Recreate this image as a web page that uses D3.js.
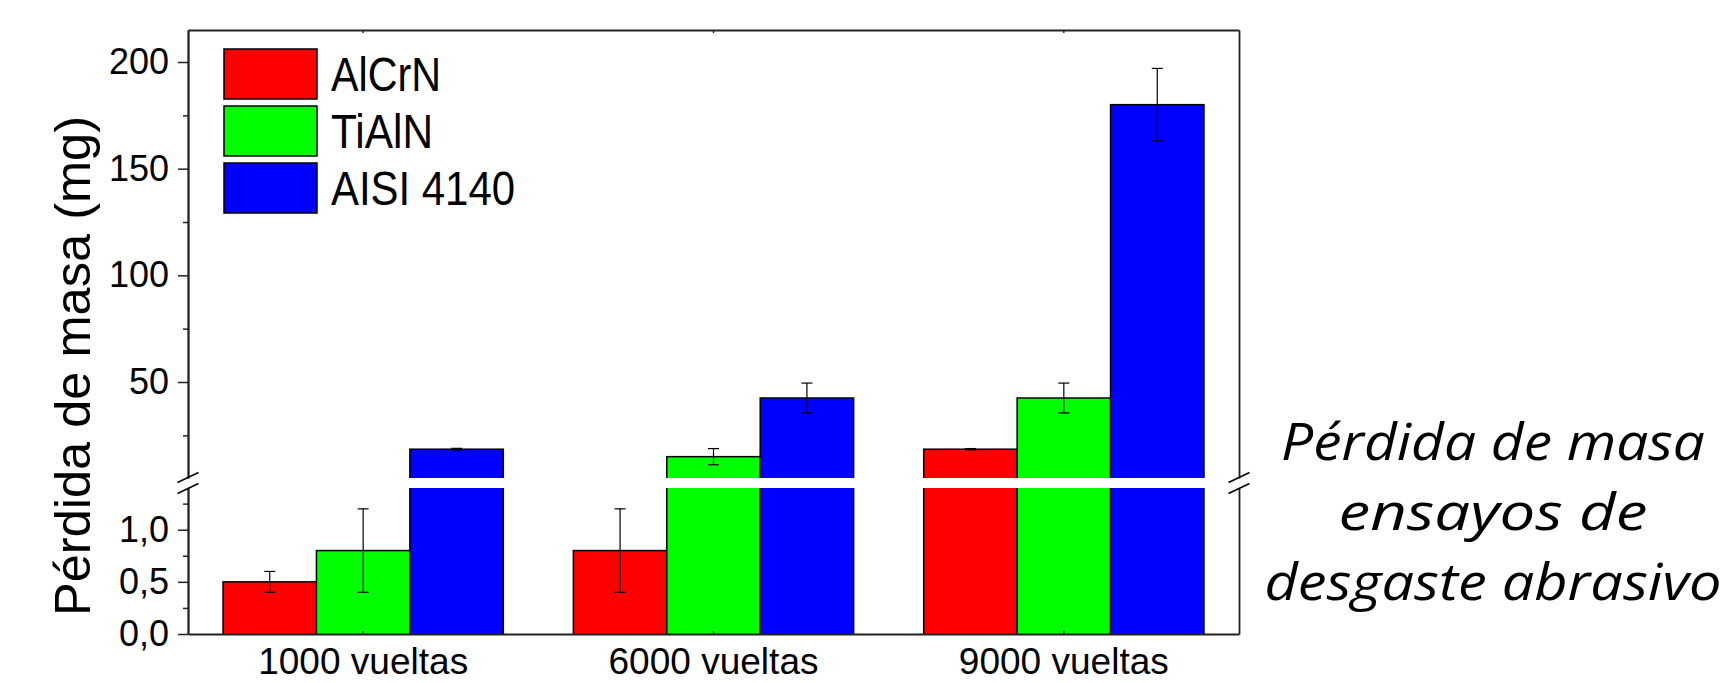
<!DOCTYPE html>
<html>
<head>
<meta charset="utf-8">
<script src="https://cdn.jsdelivr.net/npm/d3@7"></script>
<style>
  body { margin: 0; background: #fff; }
  svg { display: block; }
</style>
</head>
<body>
<div id="chart"></div>
<script>
const categories = ["1000 vueltas", "6000 vueltas", "9000 vueltas"];
const seriesNames = ["AlCrN", "TiAlN", "AISI 4140"];
const seriesColors = ["#ff0000", "#00ff00", "#0000ff"];
const alcrnValues = [0.5, 0.8, 18.5];
const alcrnErrors = [0.1, 0.4, 0.3];
const tialnValues = [0.8, 15, 42.5];
const tialnErrors = [0.4, 3.8, 7];
const aisiValues = [18.5, 42.5, 180];
const aisiErrors = [0.4, 7, 17];
const upperTicks = [50, 100, 150, 200];
const upperMinorTicks = [25, 75, 125, 175];
const lowerTicks = [0, 0.5, 1.0];
const lowerMinorTicks = [0.25, 0.75, 1.25];
const noteLines = ["Pérdida de masa", "ensayos de", "desgaste abrasivo"];

function drawBrokenBars(targetElementId) {
    const container = document.getElementById(targetElementId);
    container.innerHTML = '';

    const width = 1727;
    const height = 683;
    const left = 188, right = 1239, top = 30, bottom = 634;
    const breakLow = 488, breakHigh = 478;
    const font = "'Liberation Sans', Arial, sans-serif";

    const svg = d3.select(container).append("svg")
        .attr("width", width)
        .attr("height", height);

    const values = [alcrnValues, tialnValues, aisiValues];
    const errors = [alcrnErrors, tialnErrors, aisiErrors];
    const bars = [];
    categories.forEach((c, i) => {
        seriesNames.forEach((s, j) => {
            bars.push({ cat: c, series: s, color: seriesColors[j], v: values[j][i], e: errors[j][i] });
        });
    });

    const x0 = d3.scaleBand().domain(categories).range([left, right]).paddingInner(0.2).paddingOuter(0.1);
    const x1 = d3.scaleBand().domain(seriesNames).range([0, x0.bandwidth()]);

    const yUpper = d3.scaleLinear().domain([5, 215]).range([breakHigh, top]);
    const yLower = d3.scaleLinear().domain([0, 1.4]).range([bottom, breakLow]);

    const comma = d3.formatLocale({ decimal: ",", thousands: ".", grouping: [3], currency: ["", ""] });

    const defs = svg.append("defs");
    defs.append("clipPath").attr("id", "clip-up").append("rect")
        .attr("x", left).attr("y", top).attr("width", right - left).attr("height", breakHigh - top);
    defs.append("clipPath").attr("id", "clip-low").append("rect")
        .attr("x", left).attr("y", breakLow).attr("width", right - left).attr("height", bottom - breakLow);

    // bars, once per segment
    const segments = [
        { y: yUpper, clip: "clip-up", base: breakHigh },
        { y: yLower, clip: "clip-low", base: bottom }
    ];
    segments.forEach(seg => {
        const lo = seg.y.domain()[0];
        const hiPix = seg.y.range()[1];
        svg.append("g")
            .attr("clip-path", `url(#${seg.clip})`)
            .selectAll("rect")
            .data(bars.filter(d => d.v > lo))
            .enter()
            .append("rect")
            .attr("x", d => x0(d.cat) + x1(d.series))
            .attr("width", x1.bandwidth())
            .attr("y", d => Math.max(seg.y(d.v), hiPix - 6))
            .attr("height", d => seg.base + 6 - Math.max(seg.y(d.v), hiPix - 6))
            .attr("fill", d => d.color)
            .attr("stroke", "#000")
            .attr("stroke-width", 1.5);
    });

    // error bars
    const errG = svg.append("g").attr("stroke", "#000").attr("stroke-width", 1.2);
    bars.forEach(d => {
        const y = d.v >= yUpper.domain()[0] ? yUpper : yLower;
        const cx = x0(d.cat) + x1(d.series) + x1.bandwidth() / 2;
        const y1 = y(d.v + d.e), y2 = y(d.v - d.e);
        errG.append("line").attr("x1", cx).attr("x2", cx).attr("y1", y1).attr("y2", y2);
        [y1, y2].forEach(yy => {
            errG.append("line").attr("x1", cx - 5.5).attr("x2", cx + 5.5).attr("y1", yy).attr("y2", yy);
        });
    });

    // left axes
    const styleAxis = g => {
        g.selectAll("path").attr("stroke", "#222").attr("stroke-width", 1.8);
        g.selectAll("line").attr("stroke", "#222").attr("stroke-width", 1.5);
        g.selectAll("text").attr("font-family", font).attr("font-size", 36).attr("fill", "#000");
    };
    svg.append("g").attr("transform", `translate(${left},0)`)
        .call(d3.axisLeft(yUpper).tickValues(upperTicks).tickSize(10).tickSizeOuter(0).tickPadding(9).tickFormat(d3.format("d")))
        .call(styleAxis);
    svg.append("g").attr("transform", `translate(${left},0)`)
        .call(d3.axisLeft(yUpper).tickValues(upperMinorTicks).tickSize(5).tickSizeOuter(0).tickFormat(""))
        .call(styleAxis);
    svg.append("g").attr("transform", `translate(${left},0)`)
        .call(d3.axisLeft(yLower).tickValues(lowerTicks).tickSize(10).tickSizeOuter(0).tickPadding(9).tickFormat(comma.format(".1f")))
        .call(styleAxis);
    svg.append("g").attr("transform", `translate(${left},0)`)
        .call(d3.axisLeft(yLower).tickValues(lowerMinorTicks).tickSize(5).tickSizeOuter(0).tickFormat(""))
        .call(styleAxis);

    // right axes, no labels
    [yUpper, yLower].forEach(y => {
        svg.append("g").attr("transform", `translate(${right},0)`)
            .call(d3.axisRight(y).tickValues([]).tickSizeOuter(0))
            .call(styleAxis);
    });

    // top frame and bottom axis
    svg.append("g").attr("transform", `translate(0,${top})`)
        .call(d3.axisBottom(x0).tickSize(3).tickSizeOuter(0).tickFormat(""))
        .call(styleAxis);
    svg.append("g").attr("transform", `translate(0,${bottom})`)
        .call(d3.axisTop(x0).tickSize(3).tickSizeOuter(0).tickFormat(""))
        .call(styleAxis);
    svg.append("g").selectAll("text.cat")
        .data(categories)
        .enter()
        .append("text")
        .attr("x", d => x0(d) + x0.bandwidth() / 2)
        .attr("y", 674)
        .attr("text-anchor", "middle")
        .attr("font-family", font)
        .attr("font-size", 36)
        .attr("textLength", 210)
        .attr("lengthAdjust", "spacingAndGlyphs")
        .text(d => d);

    // break marks
    const breakMid = (breakLow + breakHigh) / 2;
    [left, right].forEach(ax => {
        [-5.5, 5.5].forEach(off => {
            svg.append("line")
                .attr("x1", ax - 10.5).attr("y1", breakMid + off + 5)
                .attr("x2", ax + 10.5).attr("y2", breakMid + off - 5)
                .attr("stroke", "#000").attr("stroke-width", 1.5);
        });
    });

    // y title
    svg.append("text")
        .attr("transform", `translate(90,366) rotate(-90)`)
        .attr("text-anchor", "middle")
        .attr("font-family", font)
        .attr("font-size", 50)
        .attr("textLength", 500)
        .attr("lengthAdjust", "spacingAndGlyphs")
        .text("Pérdida de masa (mg)");

    // legend
    const legendWidths = [110, 102, 184];
    const legend = svg.append("g");
    seriesNames.forEach((s, i) => {
        legend.append("rect")
            .attr("x", 224).attr("y", 49 + i * 57)
            .attr("width", 93).attr("height", 50)
            .attr("fill", seriesColors[i])
            .attr("stroke", "#000").attr("stroke-width", 1.5);
        legend.append("text")
            .attr("x", 331).attr("y", 91 + i * 57)
            .attr("font-family", font)
            .attr("font-size", 48)
            .attr("textLength", legendWidths[i])
            .attr("lengthAdjust", "spacingAndGlyphs")
            .text(s);
    });

    // side note
    const noteWidths = [424, 309, 457];
    svg.append("g").selectAll("text")
        .data(noteLines)
        .enter()
        .append("text")
        .attr("x", 1493)
        .attr("y", (d, i) => 460 + i * 70)
        .attr("text-anchor", "middle")
        .attr("font-family", "'Open Sans', sans-serif")
        .attr("font-style", "italic")
        .attr("font-size", 52)
        .attr("textLength", (d, i) => noteWidths[i])
        .attr("lengthAdjust", "spacingAndGlyphs")
        .text(d => d);
}

drawBrokenBars("chart");
</script>
</body>
</html>
